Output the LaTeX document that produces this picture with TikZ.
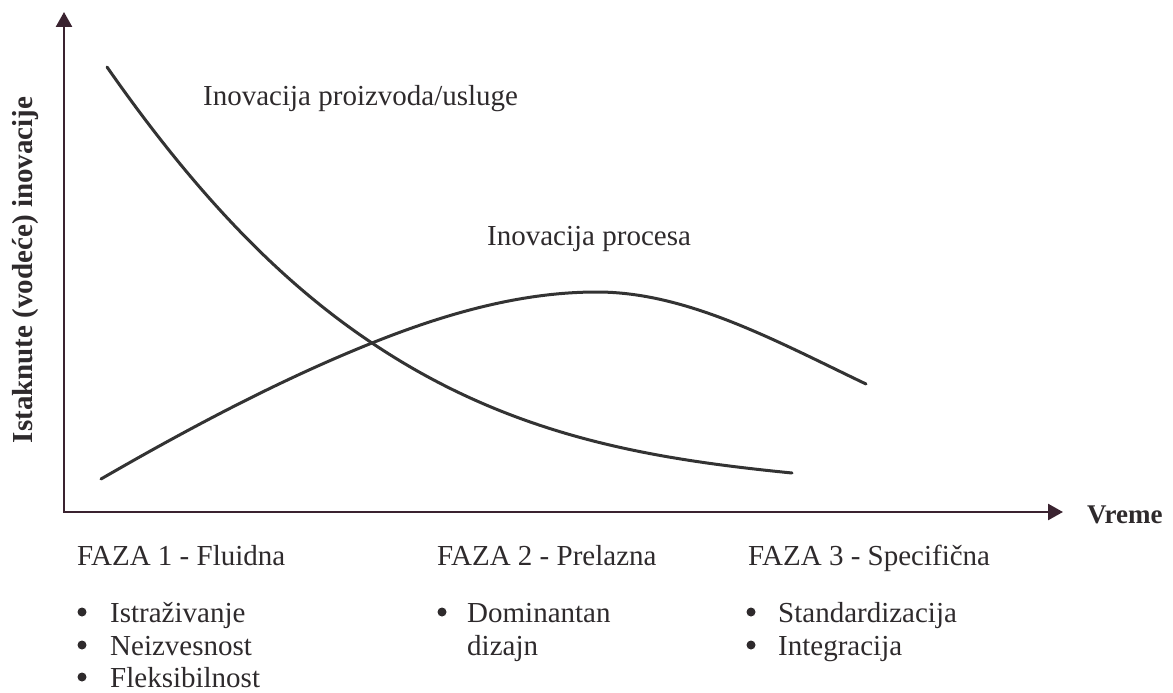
\documentclass[tikz,border=0pt]{standalone}
\usepackage{fontspec}
\setmainfont{Liberation Serif}
\usetikzlibrary{arrows.meta}
\definecolor{axiscol}{HTML}{3A2330}
\definecolor{curvecol}{HTML}{333333}
\definecolor{textcol}{HTML}{2E2A2C}
\begin{document}
\begin{tikzpicture}[x=1pt,y=-1pt,
  axis/.style={draw=axiscol,line width=2.6pt,
    {Triangle[length=15pt,width=16pt]}-{Triangle[length=15pt,width=16pt]}},
  curve/.style={draw=curvecol,line width=3pt,line cap=round},
  lbl/.style={anchor=base west,inner sep=0pt,text=textcol,
    font=\fontsize{29}{33}\selectfont},
  boldlbl/.style={inner sep=0pt,text=textcol,
    font=\fontsize{29}{33}\selectfont\bfseries},
  item/.style={lbl},
  bulletdot/.style={circle,fill=textcol,inner sep=0pt,minimum size=9pt},
]
\useasboundingbox (0,0) rectangle (1173,693);

% axes
\coordinate (ytip) at (64,12);
\coordinate (origin) at (64,512);
\coordinate (xtip) at (1063,512);
\draw[axis] (ytip) -- (origin) -- (xtip);

\node[boldlbl,anchor=base,rotate=90] (ylabel) at (32,270) {Istaknute (vodeće) inovacije};
\node[boldlbl,anchor=base west,font=\fontsize{27}{30}\selectfont\bfseries] (xlabel) at (1087,523) {Vreme};

% crossing point of the two curves
\coordinate (cross) at (372,343);

% product / service innovation
\coordinate (p0) at (107,67);
\coordinate (p1) at (792,473);
\draw[curve] (p0) .. controls (197,196) and (282,283) .. (cross)
                  .. controls (512,437) and (652,459) .. (p1);

% process innovation
\coordinate (q0) at (101,479);
\coordinate (qpeak) at (597,292);
\coordinate (q1) at (866,384);
\draw[curve] (q0) .. controls (191,427) and (282,379) .. (cross)
                  .. controls (447,313) and (522,292) .. (qpeak)
                  .. controls (687,292) and (776,341) .. (q1);

\node[lbl] (prod) at (203,105) {Inovacija proizvoda/usluge};
\node[lbl] (proc) at (487,245) {Inovacija procesa};

% phases
\node[lbl] (f1) at (77,565) {FAZA 1 - Fluidna};
\node[lbl] (f2) at (437,565) {FAZA 2 - Prelazna};
\node[lbl] (f3) at (748,565) {FAZA 3 - Specifična};

% phase 1 list
\node[bulletdot] (b1a) at (82,612) {};
\node[bulletdot] (b1b) at (82,645) {};
\node[bulletdot] (b1c) at (82,677) {};
\node[item] (f1a) at (110,622) {Istraživanje};
\node[item] (f1b) at (110,655) {Neizvesnost};
\node[item] (f1c) at (110,687) {Fleksibilnost};

% phase 2 list
\node[bulletdot] (b2a) at (442,612) {};
\node[item] (f2a) at (467,622) {Dominantan};
\node[item] (f2b) at (467,655) {dizajn};

% phase 3 list
\node[bulletdot] (b3a) at (751,612) {};
\node[bulletdot] (b3b) at (751,645) {};
\node[item] (f3a) at (778,622) {Standardizacija};
\node[item] (f3b) at (778,655) {Integracija};
\end{tikzpicture}
\end{document}
